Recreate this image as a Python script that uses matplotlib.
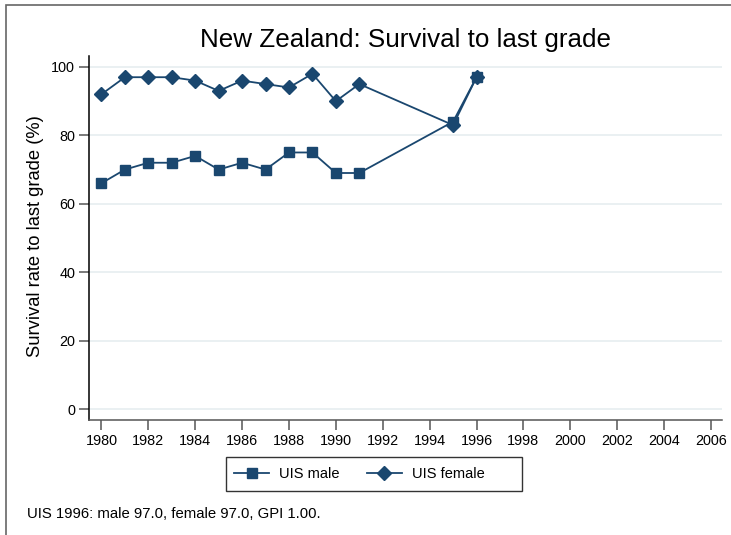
import matplotlib
matplotlib.use("Agg")
import matplotlib.pyplot as plt
from matplotlib.lines import Line2D
from matplotlib.patches import Rectangle

plt.rcParams['font.family'] = ['Liberation Sans', 'DejaVu Sans']

# data
years = [1980, 1981, 1982, 1983, 1984, 1985, 1986, 1987, 1988, 1989, 1990, 1991, 1995, 1996]
male = [66, 70, 72, 72, 74, 70, 72, 70, 75, 75, 69, 69, 84, 97]
female = [92, 97, 97, 97, 96, 93, 96, 95, 94, 98, 90, 95, 83, 97]
xticks = list(range(1980, 2007, 2))
yticks = [0, 20, 40, 60, 80, 100]
title = "New Zealand: Survival to last grade"
ylabel = "Survival rate to last grade (%)"
note = "UIS 1996: male 97.0, female 97.0, GPI 1.00."

NAVY = "#1a476f"
GRID = "#e6eef0"

W, H = 731, 535
fig = plt.figure(figsize=(W / 100, H / 100), dpi=100)

# outer frame of the graph region (only top/left visible in the reference)
fig.add_artist(Rectangle((6 / W, -0.05), 1.2, 1 - 5 / H + 0.05, transform=fig.transFigure,
                         fill=False, edgecolor="#666666", linewidth=1.2))

ax = fig.add_axes([89 / W, (H - 420) / H, 633 / W, 364 / H])
ax.set_xlim(1979.47, 2006.47)
ax.set_ylim(-3.2, 103.2)

for y in yticks:
    ax.axhline(y, color=GRID, linewidth=1.2, zorder=0)

ax.plot(years, male, color=NAVY, linewidth=1.3, marker="s", markersize=7,
        markeredgecolor=NAVY, zorder=3)
ax.plot(years, female, color=NAVY, linewidth=1.3, marker="D", markersize=6.8,
        markeredgecolor=NAVY, zorder=3)

ax.spines["top"].set_visible(False)
ax.spines["right"].set_visible(False)
ax.spines["left"].set_color("black")
ax.spines["bottom"].set_color("#555555")
ax.spines["left"].set_linewidth(1.1)
ax.spines["bottom"].set_linewidth(1.1)

ax.set_xticks(xticks)
ax.set_yticks(yticks)
ax.tick_params(axis="both", labelsize=10.4, length=7, width=1.1, color="#555555", pad=3)

fig.text(36 / W, 1 - 236.5 / H, ylabel, rotation=90, ha="center", va="center", fontsize=13.2)
fig.text(405 / W, 1 - 40 / H, title, ha="center", va="center", fontsize=18.7)
fig.text(27 / W, 1 - 514 / H, note, ha="left", va="center", fontsize=10.7)

# legend box drawn separately, contents placed inside
fig.add_artist(Rectangle((226 / W, 1 - 491 / H), 296 / W, 34 / H, transform=fig.transFigure,
                         fill=False, edgecolor="#333333", linewidth=1.0))
handles = [
    Line2D([], [], color=NAVY, linewidth=1.3, marker="s", markersize=7),
    Line2D([], [], color=NAVY, linewidth=1.3, marker="D", markersize=6.8),
]
leg = fig.legend(handles, ["UIS male", "UIS female"], loc="center left",
                 bbox_to_anchor=(234 / W, 1 - 474 / H), ncol=2, fontsize=10.5,
                 frameon=False, borderaxespad=0, borderpad=0,
                 handlelength=2.4, handletextpad=0.7, columnspacing=1.85)

fig.savefig("out.png", dpi=100)
